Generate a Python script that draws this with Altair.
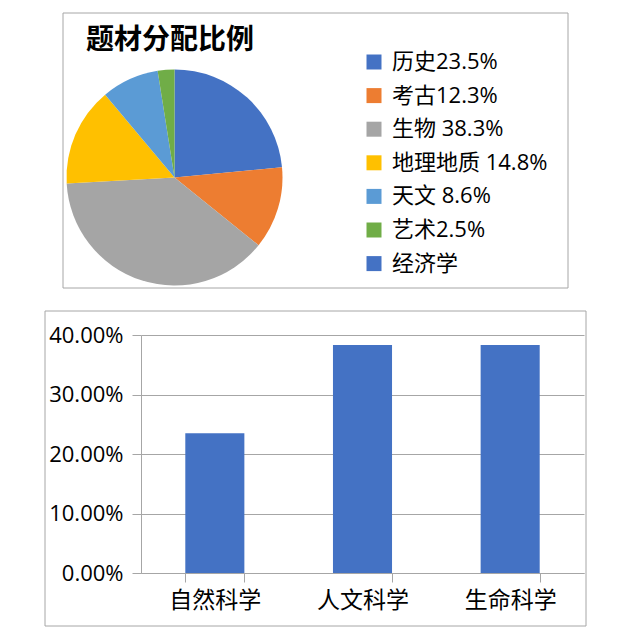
import pandas as pd
import altair as alt

# pie: subject share
pie_labels = ["历史23.5%", "考古12.3%", "生物 38.3%", "地理地质 14.8%", "天文 8.6%", "艺术2.5%", "经济学"]
pie_values = [23.5, 12.3, 38.3, 14.8, 8.6, 2.5, 0.0]
pie_colors = ["#4472C4", "#ED7D31", "#A5A5A5", "#FFC000", "#5B9BD5", "#70AD47", "#4472C4"]

# bars: grouped share
bar_cats = ["自然科学", "人文科学", "生命科学"]
bar_values = [0.235, 0.383, 0.383]

font = "Open Sans, Noto Sans CJK SC"
gray = "#a6a6a6"

pie_df = pd.DataFrame({"label": pie_labels, "value": pie_values, "order": range(len(pie_labels))})
bar_df = pd.DataFrame({"cat": bar_cats, "value": bar_values})

# concat aligns view origins, so the top box is drawn relative to the bar plot's left edge
top_frame = alt.Chart(pd.DataFrame({"f": [0]})).mark_rect(
    filled=False, stroke=gray, strokeWidth=1
).encode(x=alt.value(-78), x2=alt.value(427), y=alt.value(0), y2=alt.value(275))

pie = alt.Chart(pie_df).mark_arc(radius=108).encode(
    theta=alt.Theta("value:Q", stack=True),
    order=alt.Order("order:Q"),
    x=alt.value(33.5),
    y=alt.value(164.5),
    color=alt.Color(
        "label:N",
        scale=alt.Scale(domain=pie_labels, range=pie_colors),
        legend=alt.Legend(
            title=None, orient="none", legendX=222, legendY=38,
            symbolType="square", symbolSize=225, symbolStrokeWidth=0,
            labelFontSize=22, labelFont=font, labelColor="#000",
            labelOffset=7, rowPadding=11.6, labelLimit=300,
        ),
    ),
)

pie_title = alt.Chart(pd.DataFrame({"t": ["题材分配比例"]})).mark_text(
    align="left", baseline="middle", fontSize=28, fontWeight="bold",
    font="Noto Sans CJK SC", color="#000",
).encode(text="t:N", x=alt.value(-55), y=alt.value(28))

top = alt.layer(top_frame, pie, pie_title).properties(width=443, height=275)

frame = alt.Chart(pd.DataFrame({"f": [0]})).mark_rect(
    filled=False, stroke=gray, strokeWidth=1
).encode(x=alt.value(-96), x2=alt.value(445), y=alt.value(-24), y2=alt.value(291))

bars = alt.Chart(bar_df).mark_bar(color="#4472C4").encode(
    x=alt.X(
        "cat:N", sort=bar_cats, title=None,
        scale=alt.Scale(paddingInner=0.6, paddingOuter=0.3),
        axis=alt.Axis(
            labelAngle=0, labelFontSize=23, labelFont=font, labelColor="#000",
            labelPadding=7, tickBand="extent", tickSize=9, tickColor=gray,
            domainColor=gray, grid=False,
        ),
    ),
    y=alt.Y(
        "value:Q", title=None,
        scale=alt.Scale(domain=[0, 0.4]),
        axis=alt.Axis(
            values=[0, 0.1, 0.2, 0.3, 0.4], format=".2%",
            labelFontSize=22, labelFont=font, labelColor="#000",
            labelPadding=9, tickSize=9, tickColor=gray,
            domainColor=gray, gridColor=gray,
        ),
    ),
)

bottom = alt.layer(frame, bars).properties(width=443, height=238)

chart = alt.vconcat(top, bottom, spacing=21).properties(
    padding={"left": 36, "top": 4, "right": 5, "bottom": 5}
).configure_view(strokeWidth=0)

chart.save("out.html", embed_options={"renderer": "svg", "actions": False})
